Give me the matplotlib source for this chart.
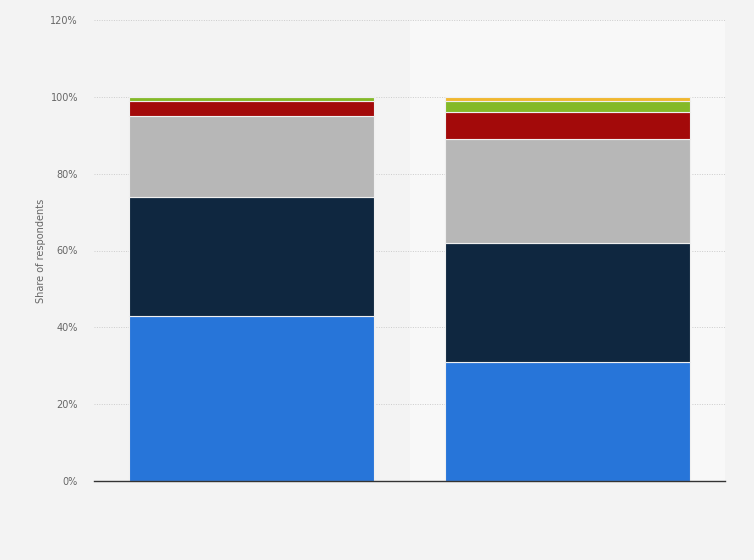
import matplotlib
matplotlib.use("Agg")
import matplotlib.pyplot as plt
from matplotlib.ticker import FuncFormatter
import numpy as np

categories = ["Group 1", "Group 2"]
series_names = ["Series 1", "Series 2", "Series 3", "Series 4", "Series 5", "Series 6"]
values = {
    "Series 1": [43, 31],
    "Series 2": [31, 31],
    "Series 3": [21, 27],
    "Series 4": [4, 7],
    "Series 5": [1, 3],
    "Series 6": [0, 1],
}
colors = ["#2775d9", "#0f2740", "#b7b7b7", "#a30a0a", "#84b928", "#f0b72f"]
yticks = [0, 20, 40, 60, 80, 100, 120]

fig = plt.figure(figsize=(7.54, 5.6), dpi=100)
fig.patch.set_facecolor("#f3f3f3")
ax = fig.add_axes([94/754, 79/560, 631/754, 461/560])
ax.set_facecolor("#f3f3f3")

x = np.arange(len(categories))
ax.axvspan(0.5, 1.5, color="#f8f8f8", zorder=0, lw=0)

bottom = np.zeros(len(categories))
for name, c in zip(series_names, colors):
    v = np.array(values[name], dtype=float)
    ax.bar(x, v, bottom=bottom, width=0.777, color=c, edgecolor="#f0f0f0",
           linewidth=0.8, zorder=3)
    bottom += v

ax.set_xlim(-0.5, 1.5)
ax.set_ylim(0, 120)
ax.set_yticks(yticks)
ax.yaxis.set_major_formatter(FuncFormatter(lambda v, p: f"{int(v)}%"))
ax.set_xticks([])
ax.grid(axis="y", color="#cccccc", linestyle=(0, (1, 1.5)), linewidth=0.7, zorder=1)
for s in ["top", "right", "left"]:
    ax.spines[s].set_visible(False)
ax.spines["bottom"].set_color("#333333")
ax.spines["bottom"].set_linewidth(1.0)
ax.spines["bottom"].set_zorder(4)
ax.tick_params(axis="y", length=0, pad=11.5, labelsize=7, labelcolor="#666666")
ax.set_ylabel("Share of respondents", fontsize=7, color="#666666")
ax.yaxis.set_label_coords((46 - 94) / 631, 0.5)

fig.savefig("out.png", dpi=100, facecolor=fig.get_facecolor())
